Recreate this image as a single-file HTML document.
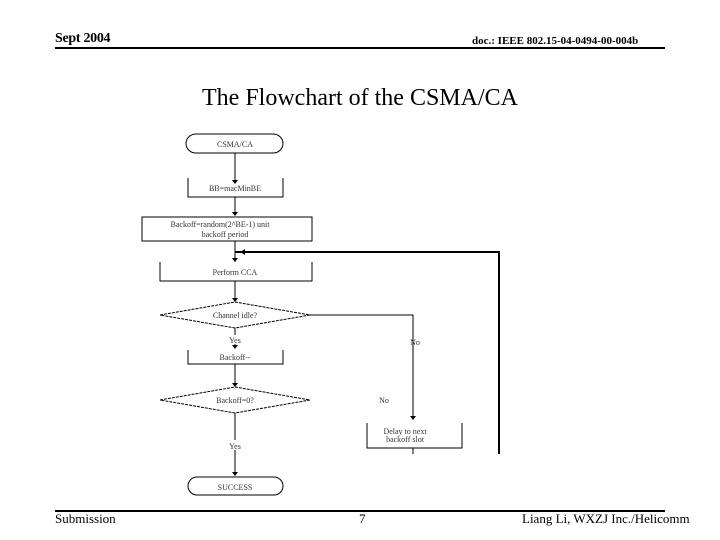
<!DOCTYPE html>
<html><head><style>
body{margin:0;background:#fff}
.t{position:absolute;font-family:"Liberation Serif",serif;color:#000}
</style></head><body>
<div style="position:relative;width:720px;height:540px;overflow:hidden">
<div class="t" style="left:55px;top:31px;font-size:14px;font-weight:bold;letter-spacing:-0.3px">Sept 2004</div>
<div class="t" style="left:472px;top:35px;font-size:11px;font-weight:bold">doc.: IEEE 802.15-04-0494-00-004b</div>
<div style="position:absolute;left:55px;top:47px;width:610px;height:2px;background:#000"></div>
<div class="t" style="left:0;width:720px;text-align:center;top:85px;font-size:24px">The Flowchart of the CSMA/CA</div>
<svg style="position:absolute;left:0;top:0" width="720" height="540" font-family="Liberation Serif,serif" font-size="8">
<g stroke="#000" fill="none" stroke-width="1">
<rect x="186" y="134" width="97" height="19" rx="10"/>
<line x1="235" y1="153" x2="235" y2="183"/>
<path d="M188 178V197H283V178"/>
<line x1="235" y1="197" x2="235" y2="215"/>
<rect x="142" y="217" width="170" height="24"/>
<line x1="235" y1="241" x2="235" y2="262"/>
<path d="M160 262V281H312V262"/>
<path d="M235 252H499V454" stroke-width="2"/>
<line x1="235" y1="281" x2="235" y2="302"/>
<path d="M160 315L235 302L310 315L235 328Z" stroke-dasharray="3,1"/>
<path d="M310 315H413V416"/>
<line x1="235" y1="328" x2="235" y2="335"/>
<line x1="235" y1="344" x2="235" y2="348"/>
<path d="M188 350V364H283V350"/>
<line x1="235" y1="364" x2="235" y2="386"/>
<path d="M160 400L235 387L310 400L235 413Z" stroke-dasharray="3,1"/>
<line x1="235" y1="413" x2="235" y2="440"/>
<line x1="235" y1="450" x2="235" y2="474"/>
<path d="M367 423V448H462V423"/>
<line x1="413" y1="448" x2="413" y2="454"/>
<rect x="188" y="477" width="95" height="18" rx="9"/>
</g>
<g fill="#000">
<path d="M232 180L238 180L235 184Z"/><path d="M232 212L238 212L235 216Z"/>
<path d="M232 258L238 258L235 262Z"/><path d="M232 298L238 298L235 302Z"/>
<path d="M232 345L238 345L235 349Z"/><path d="M232 383L238 383L235 387Z"/>
<path d="M232 472L238 472L235 476Z"/><path d="M410 416L416 416L413 420Z"/>
<path d="M245 249L245 255L240 252Z"/>
</g>
<g text-anchor="middle" fill="#333">
<text x="235" y="147">CSMA/CA</text>
<text x="235" y="191">BB=macMinBE</text>
<text x="220" y="227">Backoff=random(2^BE-1) unit</text>
<text x="225" y="237">backoff period</text>
<text x="235" y="275">Perform CCA</text>
<text x="235" y="318">Channel idle?</text>
<text x="235" y="343">Yes</text>
<text x="235" y="360">Backoff--</text>
<text x="235" y="403">Backoff=0?</text>
<text x="235" y="449">Yes</text>
<text x="415" y="345">No</text>
<text x="384" y="403">No</text>
<text x="405" y="434">Delay to next</text>
<text x="405" y="442">backoff slot</text>
<text x="235" y="490">SUCCESS</text>
</g>
</svg>
<div style="position:absolute;left:55px;top:510px;width:610px;height:2px;background:#000"></div>
<div class="t" style="left:55px;top:511px;font-size:13px">Submission</div>
<div class="t" style="left:359px;top:511px;font-size:13px">7</div>
<div class="t" style="left:522px;top:511px;font-size:13px">Liang Li, WXZJ Inc./Helicomm</div>
</div>
</body></html>
